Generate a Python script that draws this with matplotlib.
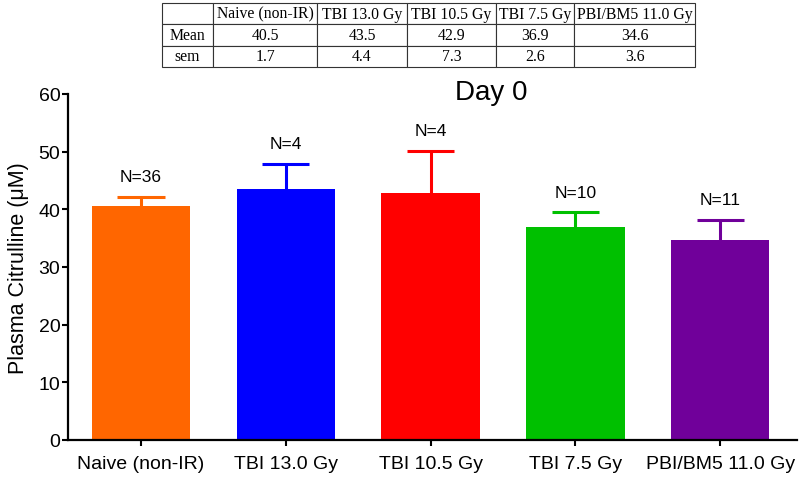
import matplotlib
matplotlib.use("Agg")
import matplotlib.pyplot as plt
import numpy as np

# data
groups = ["Naive (non-IR)", "TBI 13.0 Gy", "TBI 10.5 Gy", "TBI 7.5 Gy", "PBI/BM5 11.0 Gy"]
means = [40.5, 43.5, 42.9, 36.9, 34.6]
sems = [1.7, 4.4, 7.3, 2.6, 3.6]
n_labels = ["N=36", "N=4", "N=4", "N=10", "N=11"]
colors = ["#FF6600", "#0000FF", "#FF0000", "#00C000", "#70009A"]

plt.rcParams['font.family'] = ['Liberation Sans', 'DejaVu Sans']

fig = plt.figure(figsize=(8, 4.81), dpi=100)
ax = fig.add_axes([68 / 800, 40 / 481, 729 / 800, 346 / 481])

x = np.arange(len(groups))
tops = np.array(means) + np.array(sems)
ax.bar(x, means, width=0.68, color=colors, zorder=2)
# upper-only error bars with a cap
ax.vlines(x, means, tops, colors=colors, linewidth=2.2, zorder=3)
ax.scatter(x, tops, marker='_', s=34 ** 2, c=colors, linewidths=2.2, zorder=3)

for xi, t, lab in zip(x, tops, n_labels):
    ax.annotate(lab, (xi, t), xytext=(0, 14.5), textcoords='offset points',
                ha='center', va='center', fontsize=12.5)

ax.set_xlim(-0.504, 4.53)
ax.set_ylim(0, 60)
ax.set_yticks(np.arange(0, 61, 10))
ax.set_xticks(x)
ax.set_xticklabels(groups, fontsize=14)
ax.tick_params(axis='y', labelsize=14, length=4.5, width=1.5, pad=1)
ax.tick_params(axis='x', length=4.5, width=1.5, pad=6)
for side in ['top', 'right']:
    ax.spines[side].set_visible(False)
for side in ['left', 'bottom']:
    ax.spines[side].set_linewidth(1.6)
ax.set_ylabel("Plasma Citrulline (μM)", fontsize=15.5, labelpad=7)

fig.text(491 / 800, 1 - 93 / 481, "Day 0", fontsize=20, ha='center', va='center')

# summary table at the top
tax = fig.add_axes([162 / 800, 1 - 68 / 481, 533 / 800, 64 / 481])
tax.axis('off')
bounds = [162, 213, 317, 407, 496, 574, 695]
widths = np.diff(bounds) / (bounds[-1] - bounds[0])
cells = [[""] + groups,
         ["Mean"] + ["%.1f" % v for v in means],
         ["sem"] + ["%.1f" % v for v in sems]]
tbl = tax.table(cellText=cells, colWidths=list(widths), bbox=[0, 0, 1, 1],
                cellLoc='center')
tbl.auto_set_font_size(False)
for (r, c), cell in tbl.get_celld().items():
    cell.set_linewidth(0.8)
    cell.set_edgecolor('#333333')
    cell.PAD = 0.02
    cell.get_text().set_fontsize(11.3)
    cell.get_text().set_fontfamily('Liberation Serif')

fig.savefig("out.png", dpi=100)
